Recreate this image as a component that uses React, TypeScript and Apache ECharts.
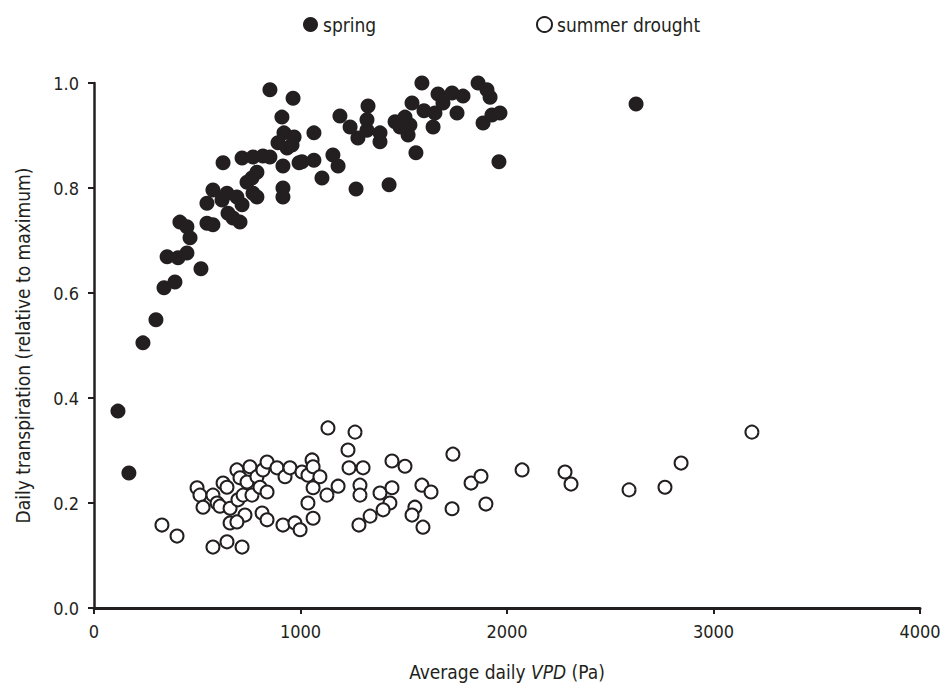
import React, { useEffect, useRef } from "react";
import * as echarts from "echarts";

const FONT = "'DejaVu Sans Condensed', 'Liberation Sans Narrow', 'Roboto', sans-serif";
const INK = "#231f20";

const xTicks = [0, 1000, 2000, 3000, 4000];
const yTicks = [0, 0.2, 0.4, 0.6, 0.8, 1.0];

// spring: [VPD (Pa), relative daily transpiration]
const springVPD = [
  116, 169, 237, 300, 339, 392, 354, 407, 450, 518, 416, 450, 465, 547, 547, 576, 649, 673, 707, 576,
  620, 644, 692, 717, 770, 789, 741, 765, 789, 625, 717, 770, 818, 852, 852, 964, 910, 920, 969, 891,
  935, 959, 915, 915, 915, 993, 1065, 1065, 1007, 1157, 1182, 1104, 1191, 1240, 1278, 1269, 1327, 1322, 1322, 1385,
  1385, 1429, 1458, 1506, 1530, 1521, 1482, 1540, 1559, 1588, 1598, 1642, 1651, 1666, 1690, 1734, 1758, 1787, 1860, 1903,
  1918, 1884, 1927, 1966, 1961, 2625,
];
const springT = [
  0.375, 0.257, 0.505, 0.549, 0.61, 0.621, 0.669, 0.667, 0.676, 0.646, 0.735, 0.726, 0.705, 0.771, 0.733, 0.73, 0.752, 0.743, 0.735, 0.796,
  0.777, 0.79, 0.783, 0.768, 0.79, 0.783, 0.811, 0.819, 0.83, 0.848, 0.857, 0.859, 0.861, 0.859, 0.987, 0.971, 0.935, 0.905, 0.897, 0.886,
  0.876, 0.882, 0.842, 0.8, 0.783, 0.848, 0.905, 0.853, 0.85, 0.863, 0.842, 0.819, 0.937, 0.916, 0.895, 0.798, 0.956, 0.93, 0.91, 0.905,
  0.888, 0.806, 0.926, 0.935, 0.92, 0.901, 0.916, 0.962, 0.867, 1.0, 0.947, 0.916, 0.943, 0.979, 0.962, 0.981, 0.943, 0.975, 1.0, 0.987,
  0.973, 0.924, 0.939, 0.943, 0.85, 0.96,
];

// summer drought
const droughtVPD = [
  329, 402, 499, 513, 528, 576, 596, 610, 625, 644, 659, 692, 707, 697, 722, 731, 755, 765, 741, 789,
  804, 818, 838, 838, 814, 838, 886, 925, 949, 1007, 1036, 1056, 1061, 1061, 1036, 1061, 915, 973, 998, 576,
  644, 717, 659, 692, 1133, 1264, 1230, 1235, 1303, 1094, 1128, 1182, 1288, 1288, 1385, 1443, 1433, 1400, 1337, 1283,
  1443, 1506, 1554, 1540, 1588, 1632, 1593, 1738, 1734, 1826, 1874, 1898, 2073, 2281, 2310, 2591, 2765, 2843, 3186,
];
const droughtT = [
  0.158, 0.137, 0.229, 0.215, 0.192, 0.215, 0.2, 0.194, 0.238, 0.23, 0.19, 0.263, 0.248, 0.206, 0.215, 0.177, 0.269, 0.215, 0.24, 0.25,
  0.23, 0.263, 0.278, 0.221, 0.181, 0.168, 0.267, 0.25, 0.267, 0.259, 0.253, 0.282, 0.269, 0.229, 0.2, 0.171, 0.158, 0.162, 0.149, 0.116,
  0.126, 0.116, 0.162, 0.164, 0.343, 0.335, 0.301, 0.267, 0.267, 0.25, 0.215, 0.232, 0.234, 0.215, 0.219, 0.229, 0.2, 0.187, 0.175, 0.158,
  0.28, 0.27, 0.192, 0.177, 0.234, 0.221, 0.154, 0.293, 0.189, 0.238, 0.251, 0.198, 0.263, 0.259, 0.236, 0.225, 0.23, 0.276, 0.335,
];

const seriesNames = ["spring", "summer drought"];

export default function App() {
  const ref = useRef<HTMLDivElement>(null);
  useEffect(() => {
    if (!ref.current) return;
    const chart = echarts.init(ref.current, null, { renderer: "svg" });
    const springData = springVPD.map((x, i) => [x, springT[i]]);
    const droughtData = droughtVPD.map((x, i) => [x, droughtT[i]]);
    const tickStyle = { fontFamily: FONT, fontSize: 18, color: INK };
    const nameStyle = { fontFamily: FONT, fontSize: 19, color: INK };
    chart.setOption({
      animation: false,
      backgroundColor: "#ffffff",
      legend: [
        {
          data: [seriesNames[0]],
          left: 303,
          top: 15,
          padding: 0,
          itemWidth: 15,
          itemHeight: 15,
          textStyle: { ...nameStyle },
        },
        {
          data: [seriesNames[1]],
          left: 536,
          top: 15,
          padding: 0,
          itemWidth: 15,
          itemHeight: 15,
          textStyle: { ...nameStyle },
        },
      ],
      grid: { left: 94, right: 24, top: 83, bottom: 78, containLabel: false },
      xAxis: {
        type: "value",
        min: xTicks[0],
        max: xTicks[xTicks.length - 1],
        interval: 1000,
        name: "Average daily {i|VPD} (Pa)",
        nameLocation: "middle",
        nameGap: 54,
        nameTextStyle: {
          ...nameStyle,
          rich: { i: { fontFamily: FONT, fontSize: 19, fontStyle: "italic", color: INK } },
        },
        axisLine: { show: true, lineStyle: { color: INK, width: 3 } },
        axisTick: { show: true, length: 6, lineStyle: { color: INK, width: 2 } },
        axisLabel: { ...tickStyle, margin: 14, formatter: (v: number) => String(v) },
        splitLine: { show: false },
      },
      yAxis: {
        type: "value",
        min: yTicks[0],
        max: yTicks[yTicks.length - 1],
        interval: 0.2,
        name: "Daily transpiration (relative to maximum)",
        nameLocation: "middle",
        nameGap: 62,
        nameTextStyle: { ...nameStyle },
        axisLine: { show: true, lineStyle: { color: INK, width: 2.5 } },
        axisTick: { show: true, length: 6, lineStyle: { color: INK, width: 2 } },
        axisLabel: { ...tickStyle, margin: 15, formatter: (v: number) => v.toFixed(1) },
        splitLine: { show: false },
      },
      series: [
        {
          name: seriesNames[0],
          type: "scatter",
          symbol: "circle",
          symbolSize: 15,
          itemStyle: { color: INK, opacity: 1 },
          data: springData,
          z: 3,
        },
        {
          name: seriesNames[1],
          type: "scatter",
          symbol: "circle",
          symbolSize: 13,
          itemStyle: { color: "#ffffff", borderColor: INK, borderWidth: 2, opacity: 1 },
          data: droughtData,
          z: 2,
        },
      ],
    });
    return () => chart.dispose();
  }, []);
  return (
    <div
      ref={ref}
      style={{ position: "fixed", left: 0, top: 0, width: 944, height: 686, background: "#fff" }}
    />
  );
}
